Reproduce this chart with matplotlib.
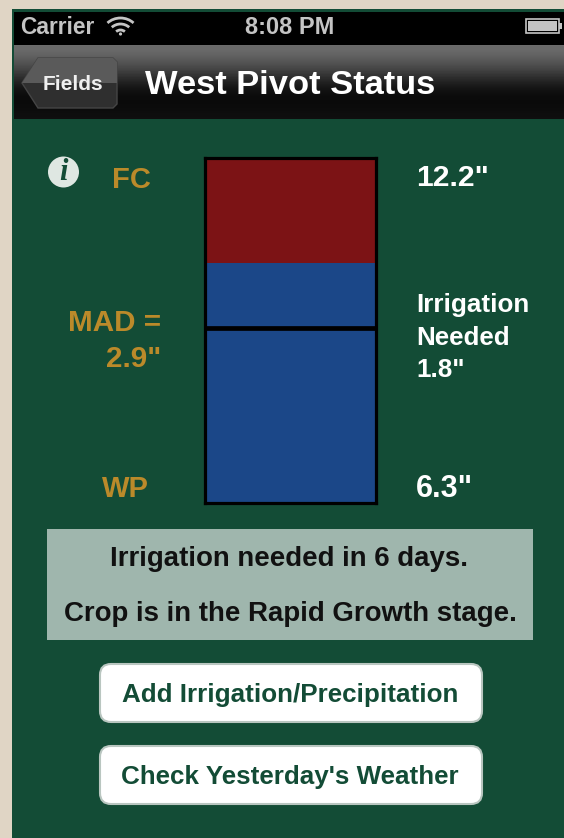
import numpy as np
import matplotlib
matplotlib.use("Agg")
import matplotlib.pyplot as plt
from matplotlib.patches import Rectangle, FancyBboxPatch, Polygon, Circle, Arc

plt.rcParams['font.family'] = ['Liberation Sans', 'DejaVu Sans']

# Soil moisture status values (inches)
field_capacity = 12.2
wilting_point = 6.3
irrigation_needed = 1.8
mad = 2.9

title = "West Pivot Status"
back_label = "Fields"
status_lines = ["Irrigation needed in 6 days.", "Crop is in the Rapid Growth stage."]
button_labels = ["Add Irrigation/Precipitation", "Check Yesterday's Weather"]

GREEN = "#134c36"
GOLD = "#bb8a2a"
GREY = "#c4c4c4"
W, H = 564, 838

fig = plt.figure(figsize=(W / 100, H / 100), dpi=100, facecolor="#e0d5c5")
ax = fig.add_axes([0, 0, 1, 1])
ax.set_xlim(0, W)
ax.set_ylim(H, 0)
ax.axis("off")

# Screen
ax.add_patch(Rectangle((12, 9), W - 12, H - 9, fc=GREEN, ec="none", zorder=0))
# Status bar
ax.add_patch(Rectangle((14, 12), W - 14, 33, fc="black", ec="none", zorder=1))
# Navigation bar gradient
grad = np.array([[0.42], [0.38], [0.32], [0.25], [0.17], [0.10], [0.05], [0.04], [0.045], [0.06]])
ax.imshow(grad, extent=(14, W, 119, 45), cmap="gray", vmin=0, vmax=1, aspect="auto",
          interpolation="bicubic", zorder=1)
ax.set_xlim(0, W)
ax.set_ylim(H, 0)

# Back button
ax.add_patch(Polygon([(22, 83), (38, 58), (113, 58), (117, 62), (117, 104), (113, 108), (38, 108)],
                     closed=True, fc="#2f2f2f", ec="#454545", lw=1, zorder=2))
ax.add_patch(Polygon([(22, 83), (38, 58), (113, 58), (117, 62), (117, 83)],
                     closed=True, fc="#5a5a5a", ec="none", zorder=2))
ax.text(72.5, 84.5, back_label, color="#f0f0f0", fontsize=15, fontweight="bold", ha="center", va="center", zorder=3)
ax.text(145, 85.5, title, color="white", fontsize=24.8, fontweight="bold", ha="left", va="center", zorder=3)

# Status bar contents
ax.text(20, 28, "Carrier", color=GREY, fontsize=16.4, fontweight="bold", ha="left", va="center", zorder=3)
ax.text(290, 28, "8:08 PM", color=GREY, fontsize=17, fontweight="bold", ha="center", va="center", zorder=3)
for d in (36, 24, 12):
    ax.add_patch(Arc((120.5, 36), d * 1.05, d, theta1=225, theta2=315, color=GREY, lw=2.0, zorder=3))
ax.add_patch(Circle((120.5, 34), 1.6, fc=GREY, ec="none", zorder=3))
ax.add_patch(Rectangle((526, 19), 33, 14, fc="none", ec=GREY, lw=1.2, zorder=3))
ax.add_patch(Rectangle((528, 21), 29, 10, fc=GREY, ec="none", zorder=3))
ax.add_patch(Rectangle((559, 23), 3, 6, fc=GREY, ec="none", zorder=3))

# Info icon
ax.add_patch(Circle((63.5, 172), 15.5, fc="#dfe7e2", ec="none", zorder=3))
ax.text(63.5, 172, "i", family="Liberation Serif", style="italic", fontweight="bold", color=GREEN,
        fontsize=22, ha="center", va="center", zorder=4)

# Gold labels
ax.text(131, 180, "FC", color=GOLD, fontsize=21, fontweight="bold", ha="center", va="center", zorder=3)
ax.text(161, 323, "MAD =", color=GOLD, fontsize=21.3, fontweight="bold", ha="right", va="center", zorder=3)
ax.text(161, 359, '2.9"', color=GOLD, fontsize=21.3, fontweight="bold", ha="right", va="center", zorder=3)
ax.text(125, 489, "WP", color=GOLD, fontsize=21, fontweight="bold", ha="center", va="center", zorder=3)

# White labels
ax.text(416, 178, f'{field_capacity}"', color="white", fontsize=21.7, fontweight="bold", ha="left", va="center", zorder=3)
ax.text(416, 305, "Irrigation", color="white", fontsize=18.7, fontweight="bold", ha="left", va="center", zorder=3)
ax.text(416, 338, "Needed", color="white", fontsize=18.7, fontweight="bold", ha="left", va="center", zorder=3)
ax.text(416, 370, f'{irrigation_needed}"', color="white", fontsize=18.7, fontweight="bold", ha="left", va="center", zorder=3)
ax.text(416, 489, f'{wilting_point}"', color="white", fontsize=22, fontweight="bold", ha="left", va="center", zorder=3)

# Status box
ax.add_patch(Rectangle((47, 529), 486, 111, fc="#9fb6ad", ec="none", zorder=1))
ax.text(289, 559, status_lines[0], color="#111111", fontsize=19.9, fontweight="bold", ha="center", va="center", zorder=3)
ax.text(290, 614, status_lines[1], color="#111111", fontsize=19.9, fontweight="bold", ha="center", va="center", zorder=3)

# Buttons
for (y0, y1), label in zip([(664, 722), (746, 804)], button_labels):
    ax.add_patch(FancyBboxPatch((108, y0 + 8), 366, y1 - y0 - 16, boxstyle="round,pad=8,rounding_size=11",
                                fc="white", ec="#b9c6c0", lw=1.5, zorder=2))
    ax.text(290, (y0 + y1) / 2 + 2, label, color=GREEN, fontsize=18.7, fontweight="bold",
            ha="center", va="center", zorder=3)

# Gauge bar, drawn on its own value axis
bx = fig.add_axes([205 / W, 1 - 503 / H, (376 - 205) / W, (503 - 158) / H])
bx.set_xlim(0, 1)
bx.set_ylim(wilting_point, field_capacity)
current = field_capacity - irrigation_needed
bx.bar(0.5, current - wilting_point, bottom=wilting_point, width=1, color="#1b4788", linewidth=0)
bx.bar(0.5, field_capacity - current, bottom=current, width=1, color="#7c1315", linewidth=0)
bx.axhline(field_capacity - mad, color="black", lw=3.4)
bx.set_xticks([])
bx.set_yticks([])
for s in bx.spines.values():
    s.set_color("black")
    s.set_linewidth(2.3)

fig.savefig("out.png", dpi=100, facecolor=fig.get_facecolor())
